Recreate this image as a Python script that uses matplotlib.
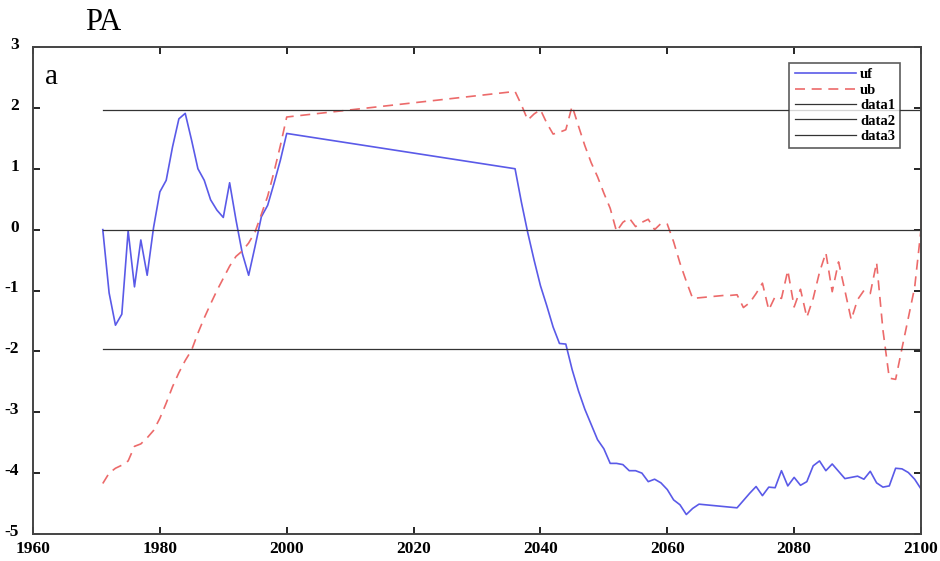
import matplotlib
matplotlib.use("Agg")
import matplotlib.pyplot as plt
import matplotlib.transforms as mtransforms
import numpy as np

plt.rcParams["axes.unicode_minus"] = False

years_hist = list(range(1971, 2001))
years_fut = list(range(2036, 2101))

uf_hist = [0.0, -1.04, -1.57, -1.39, -0.02, -0.94, -0.17, -0.75, 0.03, 0.62,
           0.81, 1.36, 1.82, 1.91, 1.47, 1.0, 0.81, 0.49, 0.32, 0.2,
           0.77, 0.16, -0.39, -0.75, -0.28, 0.21, 0.4, 0.76, 1.14, 1.58]
uf_fut = [1.0, 0.45, -0.05, -0.5, -0.92, -1.25, -1.6, -1.87, -1.88, -2.3,
          -2.65, -2.95, -3.2, -3.45, -3.6, -3.84, -3.84, -3.86, -3.96, -3.96,
          -4.0, -4.14, -4.1, -4.16, -4.27, -4.44, -4.52, -4.68, -4.58, -4.51,
          -4.52, -4.53, -4.54, -4.55, -4.56, -4.57, -4.45, -4.33, -4.22, -4.37,
          -4.23, -4.24, -3.96, -4.21, -4.07, -4.2, -4.14, -3.88, -3.8, -3.96,
          -3.85, -3.97, -4.09, -4.07, -4.05, -4.1, -3.97, -4.16, -4.23, -4.21,
          -3.92, -3.93, -3.99, -4.1, -4.26]

ub_hist = [-4.17, -4.0, -3.92, -3.87, -3.8, -3.56, -3.52, -3.42, -3.3, -3.1,
           -2.85, -2.58, -2.35, -2.15, -1.98, -1.7, -1.45, -1.22, -1.0, -0.8,
           -0.6, -0.44, -0.35, -0.22, -0.04, 0.25, 0.55, 0.95, 1.38, 1.85]
ub_fut = [2.27, 2.05, 1.8, 1.9, 1.97, 1.75, 1.57, 1.6, 1.64, 2.03,
          1.7, 1.38, 1.1, 0.87, 0.6, 0.35, -0.03, 0.12, 0.19, 0.05,
          0.12, 0.17, 0.0, 0.1, 0.09, -0.2, -0.55, -0.85, -1.13, -1.12,
          -1.11, -1.1, -1.09, -1.08, -1.08, -1.07, -1.28, -1.2, -1.05, -0.88,
          -1.32, -1.1, -1.13, -0.67, -1.27, -0.98, -1.44, -1.13, -0.7, -0.38,
          -1.02, -0.53, -1.0, -1.48, -1.15, -1.0, -1.05, -0.54, -1.65, -2.44,
          -2.46, -1.95, -1.45, -0.95, 0.0]

crit_levels = [1.96, 0.0, -1.96]
crit_labels = ["data1", "data2", "data3"]

years = years_hist + years_fut
uf = uf_hist + uf_fut
ub = ub_hist + ub_fut

serif = ["Liberation Serif", "DejaVu Serif"]

fig = plt.figure(figsize=(9.4, 5.61), dpi=100)
ax = fig.add_axes([33/940, 27/561, 888/940, 487/561])

ax.plot(years, uf, color="#5a5ae8", lw=1.2, label="uf")
ax.plot(years, ub, color="#ec6a6a", lw=1.2, ls=(0, (6, 4)), label="ub")
for lev, lab in zip(crit_levels, crit_labels):
    ax.plot([years[0], years[-1]], [lev, lev], color="#333333", lw=0.9, label=lab)

ax.set_xlim(1960, 2100)
ax.set_ylim(-5, 3)
ax.set_xticks(range(1960, 2101, 20))
ax.set_yticks(range(-5, 4))
ax.tick_params(direction="in", top=True, right=True, length=5, width=1.2,
               labelsize=12.5)
ax.tick_params(axis="x", pad=5)
ax.tick_params(axis="y", pad=10)
for lbl in ax.get_xticklabels() + ax.get_yticklabels():
    lbl.set_fontfamily(serif)
    lbl.set_fontweight("bold")
up = mtransforms.ScaledTranslation(0, 4/100, fig.dpi_scale_trans)
for lbl in ax.get_yticklabels():
    lbl.set_transform(lbl.get_transform() + up)
for sp in ax.spines.values():
    sp.set_linewidth(1.4)
    sp.set_color("#444444")

leg = ax.legend(loc="upper right", bbox_to_anchor=(0.985, 0.982),
                prop={"family": serif, "weight": "bold", "size": 10.5},
                frameon=True, fancybox=False, edgecolor="#333333",
                handlelength=4.2, labelspacing=0.15, borderpad=0.35,
                handletextpad=0.3)
leg.get_frame().set_linewidth(1.2)

ax.text(0.013, 0.965, "a", transform=ax.transAxes, fontsize=21,
        family=serif, va="top", ha="left")
fig.text(85/940, 1 - 22/561, "PA", fontsize=22, family=serif,
         va="center", ha="left")

fig.savefig("out.png", dpi=100)
